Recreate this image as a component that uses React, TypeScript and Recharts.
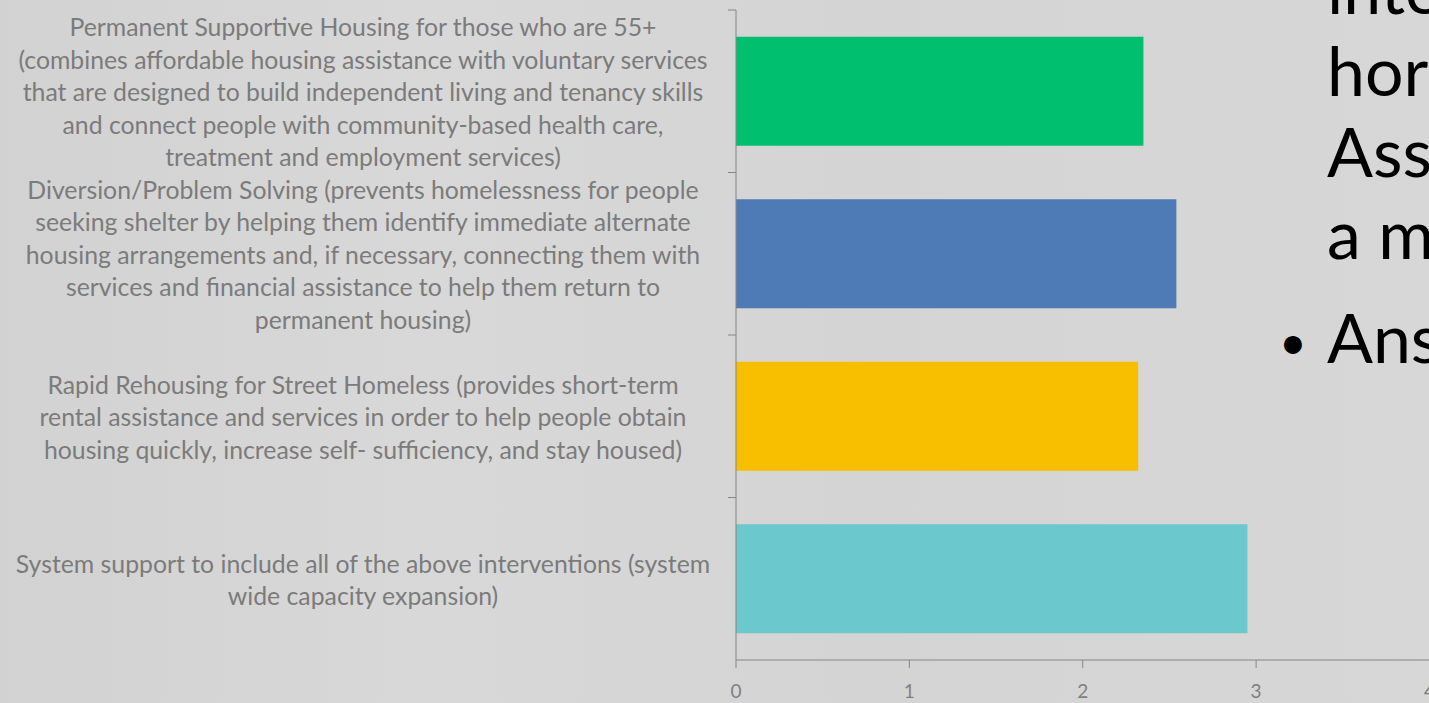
import React from 'react';
import { BarChart, Bar, XAxis, YAxis, Cell } from 'recharts';

// category labels, split where the slide wraps them
const labelLines: string[][] = [
  [
    'Permanent Supportive Housing for those who are 55+',
    '(combines affordable housing assistance with voluntary services',
    'that are designed to build independent living and tenancy skills',
    'and connect people with community-based health care,',
    'treatment and employment services)',
  ],
  [
    'Diversion/Problem Solving (prevents homelessness for people',
    'seeking shelter by helping them identify immediate alternate',
    'housing arrangements and, if necessary, connecting them with',
    'services and financial assistance to help them return to',
    'permanent housing)',
  ],
  [
    'Rapid Rehousing for Street Homeless (provides short-term',
    'rental assistance and services in order to help people obtain',
    'housing quickly, increase self- sufficiency, and stay housed)',
  ],
  [
    'System support to include all of the above interventions (system',
    'wide capacity expansion)',
  ],
];

const scores = [2.35, 2.54, 2.32, 2.95];
const barColors = ['#00BF6F', '#4E7AB5', '#F8BF00', '#6BC8CD'];
const xTicks = [0, 1, 2, 3, 4];

// cut-off slide text on the right
const sideLines = ['inte', 'hor', 'Ass', 'a m'];
const bulletLine = 'Ans';

const data = labelLines.map((lines, i) => ({
  name: lines.join(' '),
  score: scores[i],
}));

const W = 1440;
const H = 703;
const M = { top: 10, right: 10.5, bottom: 8, left: 0 };
const Y_AXIS_W = 736;
const X_AXIS_H = 35;
const PLOT_H = H - M.top - M.bottom - X_AXIS_H;
const BAND = PLOT_H / data.length;
const LABEL_CENTER = 363;
const LINE_H = 32.5;
const AXIS_COLOR = '#868686';

const CategoryTick = (props: any) => {
  const { y, payload, index } = props;
  const i = payload?.index ?? index;
  const lines = labelLines[i] || [];
  const start = y - ((lines.length - 1) * LINE_H) / 2;
  return (
    <g>
      <line x1={Y_AXIS_W - 8} x2={Y_AXIS_W} y1={y - BAND / 2} y2={y - BAND / 2} stroke={AXIS_COLOR} />
      <text
        x={LABEL_CENTER}
        y={start}
        textAnchor="middle"
        dominantBaseline="central"
        fill="#7b7b7b"
        fontSize={24.8}
        fontFamily="Lato, 'Open Sans', sans-serif"
      >
        {lines.map((l, k) => (
          <tspan key={k} x={LABEL_CENTER} y={start + k * LINE_H}>
            {l}
          </tspan>
        ))}
      </text>
    </g>
  );
};

export default function App() {
  return (
    <div
      style={{
        position: 'absolute',
        left: 0,
        top: 0,
        width: 1429,
        height: 703,
        overflow: 'hidden',
        background: 'linear-gradient(90deg, #d2d2d2 0%, #d8d8d8 30%, #d4d4d4 60%, #d7d7d7 100%)',
        fontFamily: "Lato, 'Open Sans', sans-serif",
      }}
    >
      <BarChart
        width={W}
        height={H}
        data={data}
        layout="vertical"
        margin={M}
        barCategoryGap="16.5%"
      >
        <XAxis
          type="number"
          domain={[0, 4]}
          ticks={xTicks}
          height={X_AXIS_H}
          interval={0}
          stroke={AXIS_COLOR}
          tickSize={8}
          tickMargin={17}
          tick={{ fill: '#808080', fontSize: 19 }}
        />
        <YAxis
          type="category"
          dataKey="name"
          width={Y_AXIS_W}
          stroke={AXIS_COLOR}
          tickLine={false}
          interval={0}
          tick={<CategoryTick />}
        />
        <Bar dataKey="score" isAnimationActive={false}>
          {data.map((d, i) => (
            <Cell key={d.name} fill={barColors[i]} />
          ))}
        </Bar>
      </BarChart>
      {sideLines.map((t, i) => (
        <div
          key={t}
          style={{
            position: 'absolute',
            left: 1327,
            top: 14 + i * 81.5 - 66,
            fontSize: 68,
            lineHeight: '80px',
            color: '#000',
            whiteSpace: 'nowrap',
          }}
        >
          {t}
        </div>
      ))}
      <div
        style={{
          position: 'absolute',
          left: 1279,
          top: 363 - 66,
          fontSize: 68,
          lineHeight: '80px',
          color: '#000',
          whiteSpace: 'nowrap',
        }}
      >
        <span style={{ display: 'inline-block', width: 48, fontSize: 48, verticalAlign: 'top', lineHeight: '88px' }}>•</span>
        {bulletLine}
      </div>
    </div>
  );
}
